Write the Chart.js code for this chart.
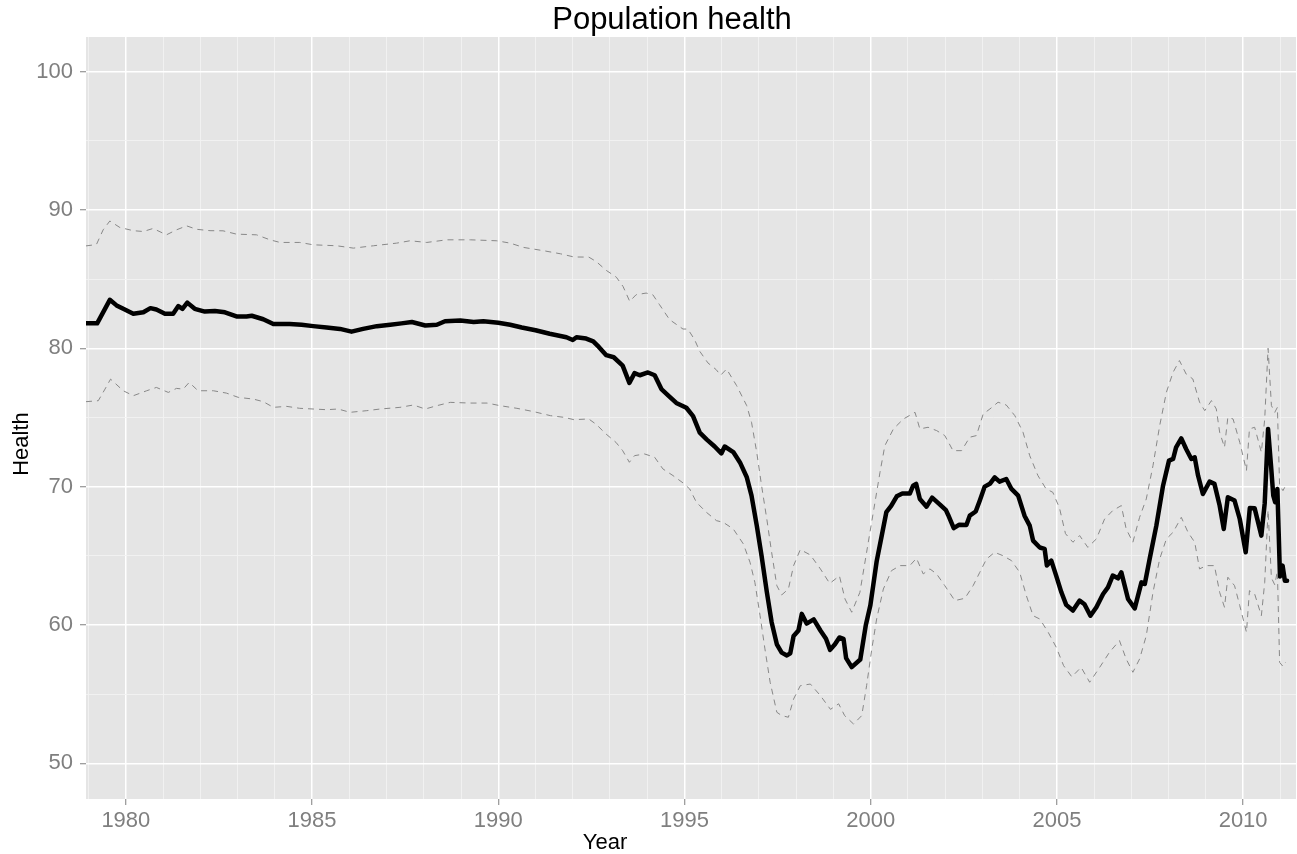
<!DOCTYPE html>
<html>
<head>
<meta charset="utf-8">
<script src="https://cdn.jsdelivr.net/npm/chart.js@4.4.1/dist/chart.umd.min.js"></script>
<style>
  html, body { margin: 0; padding: 0; background: #ffffff; }
  #wrap { width: 1297px; height: 854px; }
</style>
</head>
<body>
<div id="wrap"><canvas id="c" width="1297" height="854"></canvas></div>
<script>
// Population health estimate (thick line) with upper / lower bounds (dashed)
const healthYears = [1978.93,1979.23,1979.57,1979.75,1979.93,1980.2,1980.47,1980.66,1980.82,1981.05,1981.27,1981.41,1981.52,1981.65,1981.85,1982.12,1982.39,1982.66,1982.97,1983.24,1983.38,1983.69,1983.96,1984.4,1984.72,1985.03,1985.39,1985.75,1986.06,1986.37,1986.74,1987.1,1987.4,1987.68,1988.04,1988.35,1988.57,1988.98,1989.34,1989.6,1990.0,1990.32,1990.63,1991.0,1991.38,1991.83,1992.0,1992.1,1992.36,1992.55,1992.7,1992.9,1993.1,1993.34,1993.52,1993.66,1993.8,1994.02,1994.2,1994.38,1994.56,1994.78,1995.05,1995.23,1995.41,1995.6,1995.81,1995.99,1996.08,1996.31,1996.49,1996.67,1996.8,1996.94,1997.07,1997.21,1997.34,1997.48,1997.61,1997.75,1997.84,1997.93,1998.06,1998.15,1998.28,1998.47,1998.65,1998.8,1998.91,1999.04,1999.16,1999.27,1999.34,1999.49,1999.72,1999.87,1999.99,2000.16,2000.3,2000.42,2000.55,2000.7,2000.85,2001.05,2001.14,2001.22,2001.32,2001.5,2001.65,2001.86,2002.02,2002.08,2002.23,2002.38,2002.57,2002.66,2002.82,2002.93,2003.06,2003.2,2003.33,2003.46,2003.64,2003.78,2003.96,2004.13,2004.27,2004.36,2004.54,2004.67,2004.73,2004.85,2004.98,2005.12,2005.25,2005.43,2005.61,2005.74,2005.9,2006.06,2006.24,2006.37,2006.5,2006.64,2006.73,2006.91,2007.09,2007.27,2007.36,2007.49,2007.67,2007.85,2008.01,2008.12,2008.2,2008.34,2008.47,2008.61,2008.7,2008.79,2008.92,2009.1,2009.23,2009.37,2009.48,2009.59,2009.77,2009.91,2010.07,2010.18,2010.31,2010.49,2010.58,2010.67,2010.75,2010.81,2010.86,2010.92,2010.99,2011.06,2011.12,2011.18];
const healthValues = [81.8,81.8,83.5,83.1,82.85,82.5,82.6,82.9,82.8,82.5,82.5,83.05,82.85,83.3,82.85,82.65,82.7,82.6,82.3,82.3,82.35,82.1,81.75,81.75,81.7,81.6,81.5,81.4,81.2,81.4,81.6,81.7,81.8,81.9,81.65,81.7,81.95,82.0,81.9,81.95,81.85,81.7,81.5,81.3,81.05,80.8,80.6,80.8,80.7,80.5,80.1,79.5,79.35,78.75,77.5,78.2,78.05,78.25,78.05,77.05,76.6,76.05,75.7,75.1,73.9,73.4,72.9,72.4,72.9,72.5,71.75,70.7,69.35,67.2,65.0,62.4,60.2,58.6,58.0,57.8,57.95,59.2,59.6,60.8,60.1,60.4,59.6,59.0,58.2,58.6,59.1,59.0,57.6,56.95,57.5,60.0,61.4,64.6,66.5,68.15,68.6,69.3,69.5,69.5,70.07,70.2,69.1,68.55,69.2,68.7,68.3,67.95,67.0,67.25,67.23,67.9,68.2,69.0,70.0,70.2,70.67,70.36,70.55,69.83,69.35,67.9,67.18,66.1,65.6,65.5,64.3,64.65,63.57,62.36,61.45,61.04,61.76,61.5,60.67,61.28,62.24,62.72,63.57,63.37,63.8,61.88,61.2,63.08,62.96,64.77,67.18,70.07,71.88,72.0,72.84,73.49,72.72,72.0,72.12,70.8,69.47,70.36,70.2,68.63,66.94,69.23,68.99,67.66,65.25,68.45,68.43,66.46,68.8,74.17,71.5,69.35,68.87,69.83,63.5,64.29,63.2,63.2];

const upperYears = [1978.93,1979.21,1979.39,1979.57,1979.84,1980.2,1980.47,1980.73,1981.09,1981.36,1981.63,1981.9,1982.26,1982.61,1982.97,1983.51,1983.87,1984.14,1984.67,1985.03,1985.66,1986.11,1986.65,1987.27,1987.63,1988.08,1988.62,1989.25,1989.96,1990.32,1990.68,1991.22,1991.67,1992.03,1992.43,1992.63,1992.9,1993.17,1993.35,1993.53,1993.7,1993.97,1994.15,1994.33,1994.6,1994.96,1995.09,1995.27,1995.41,1995.63,1995.85,1995.97,1996.13,1996.4,1996.67,1996.8,1996.94,1997.07,1997.21,1997.34,1997.48,1997.61,1997.79,1997.93,1998.11,1998.38,1998.65,1998.9,1999.16,1999.31,1999.49,1999.71,1999.89,2000.07,2000.25,2000.38,2000.61,2000.88,2001.19,2001.32,2001.54,2001.77,2001.99,2002.21,2002.44,2002.66,2002.84,2003.02,2003.2,2003.42,2003.64,2003.87,2004.09,2004.27,2004.49,2004.71,2004.89,2005.07,2005.23,2005.43,2005.61,2005.83,2006.06,2006.28,2006.5,2006.73,2006.86,2007.04,2007.22,2007.4,2007.58,2007.76,2007.94,2008.12,2008.29,2008.47,2008.65,2008.83,2008.97,2009.15,2009.28,2009.37,2009.5,2009.59,2009.73,2009.91,2010.09,2010.17,2010.31,2010.49,2010.58,2010.67,2010.76,2010.85,2010.92,2010.98,2011.07,2011.14];
const upperValues = [87.4,87.5,88.56,89.2,88.73,88.5,88.44,88.66,88.2,88.56,88.85,88.6,88.5,88.49,88.25,88.2,87.84,87.65,87.65,87.48,87.41,87.24,87.41,87.6,87.77,87.65,87.84,87.84,87.77,87.6,87.29,87.05,86.83,86.6,86.59,86.27,85.63,85.14,84.47,83.39,83.87,83.99,83.87,83.15,82.07,81.39,81.39,80.63,79.78,78.94,78.46,78.05,78.5,77.3,75.86,74.65,72.48,70.07,67.66,65.25,62.84,62.17,62.6,64.29,65.45,65.06,64.05,63.0,63.55,61.88,60.92,62.36,65.25,68.14,71.04,72.96,74.17,74.89,75.37,74.17,74.29,74.05,73.69,72.6,72.6,73.57,73.69,75.25,75.61,76.1,75.9,75.13,73.93,72.24,70.8,69.83,69.59,68.45,66.6,65.98,66.46,65.61,66.22,67.66,68.27,68.63,66.94,65.98,67.78,69.11,71.52,74.41,76.82,78.27,79.11,78.14,77.78,76.1,75.49,76.22,75.61,73.93,72.84,75.01,74.89,73.2,71.16,74.17,74.29,72.48,74.89,80.0,75.86,75.37,75.73,70.07,69.71,70.07];

const lowerYears = [1978.93,1979.26,1979.44,1979.59,1979.93,1980.2,1980.56,1980.82,1981.14,1981.36,1981.54,1981.7,1981.94,1982.35,1982.7,1983.02,1983.42,1983.69,1983.96,1984.32,1984.67,1985.03,1985.39,1985.7,1986.02,1986.47,1986.83,1987.36,1987.72,1988.04,1988.35,1988.71,1989.25,1989.7,1990.05,1990.5,1990.95,1991.4,1991.76,1992.03,1992.43,1992.63,1992.89,1993.16,1993.34,1993.52,1993.66,1993.93,1994.2,1994.42,1994.69,1994.96,1995.14,1995.32,1995.59,1995.86,1996.04,1996.31,1996.58,1996.76,1996.89,1997.03,1997.16,1997.3,1997.48,1997.61,1997.79,1997.93,1998.11,1998.38,1998.65,1998.92,1999.14,1999.3,1999.54,1999.76,1999.89,2000.03,2000.16,2000.34,2000.56,2000.79,2001.05,2001.23,2001.41,2001.59,2001.77,2001.99,2002.26,2002.53,2002.75,2002.93,2003.11,2003.33,2003.55,2003.78,2004.0,2004.18,2004.36,2004.54,2004.76,2004.98,2005.18,2005.4,2005.65,2005.88,2006.15,2006.41,2006.68,2006.86,2007.04,2007.22,2007.4,2007.58,2007.76,2007.94,2008.12,2008.34,2008.52,2008.7,2008.83,2009.01,2009.23,2009.37,2009.5,2009.59,2009.77,2009.91,2010.09,2010.17,2010.31,2010.49,2010.58,2010.67,2010.76,2010.85,2010.92,2010.98,2011.07,2011.14];
const lowerValues = [76.14,76.21,77.05,77.77,76.93,76.57,76.93,77.17,76.81,77.1,77.05,77.53,76.93,76.93,76.76,76.45,76.33,76.14,75.73,75.8,75.66,75.61,75.56,75.61,75.37,75.49,75.61,75.73,75.9,75.61,75.85,76.09,76.04,76.04,75.85,75.66,75.42,75.13,75.01,74.84,74.89,74.5,73.81,73.2,72.6,71.76,72.24,72.36,72.12,71.28,70.8,70.27,69.83,68.87,68.14,67.54,67.42,66.94,65.86,64.53,63.08,60.67,58.27,55.86,53.69,53.45,53.33,54.65,55.61,55.73,54.89,53.9,54.3,53.45,52.84,53.45,55.61,58.27,60.43,62.6,63.93,64.29,64.29,64.82,63.69,64.05,63.69,62.84,61.76,61.93,62.84,63.81,64.77,65.25,65.01,64.65,63.81,62.12,60.67,60.43,59.5,58.4,57.06,56.25,56.94,55.86,56.94,58.02,58.87,57.54,56.58,57.54,59.23,62.36,64.77,66.22,66.7,67.78,66.7,65.98,64.05,64.29,64.29,62.36,61.28,63.45,62.84,61.4,59.47,62.48,62.24,60.67,63.08,68.3,63.4,62.9,63.9,57.3,57.0,57.3];

// Axis ticks: labelled majors and unlabelled minor grid positions
const xTickLabels = [1980, 1985, 1990, 1995, 2000, 2005, 2010];
const xMinorTicks = [1979,1981,1982,1983,1984,1986,1987,1988,1989,1991,1992,1993,1994,1996,1997,1998,1999,2001,2002,2003,2004,2006,2007,2008,2009,2011];
const yTickLabels = [50, 60, 70, 80, 90, 100];
const yMinorTicks = [55, 65, 75, 85, 95];

const toPoints = (xs, ys) => xs.map((x, i) => ({ x: x, y: ys[i] }));

const FONT = '"Liberation Sans", Arial, Helvetica, sans-serif';
const TICK_GREY = '#7f7f7f';

function gridStyle(majors) {
  return {
    color: ctx => majors.includes(ctx.tick.value) ? '#ffffff' : '#f2f2f2',
    lineWidth: ctx => majors.includes(ctx.tick.value) ? 1.5 : 0.9,
    tickColor: ctx => majors.includes(ctx.tick.value) ? TICK_GREY : 'rgba(0,0,0,0)',
    tickLength: 6,
    tickWidth: 1,
    drawTicks: true
  };
}

const panelBackground = {
  id: 'panelBackground',
  beforeDraw(chart) {
    const a = chart.chartArea;
    const ctx = chart.ctx;
    ctx.save();
    ctx.fillStyle = '#e5e5e5';
    ctx.fillRect(a.left, a.top, a.right - a.left, a.bottom - a.top);
    ctx.restore();
  }
};

const titles = {
  id: 'titles',
  afterDraw(chart) {
    const ctx = chart.ctx;
    ctx.save();
    ctx.fillStyle = '#000000';
    ctx.textAlign = 'center';
    ctx.textBaseline = 'alphabetic';
    ctx.font = '31px ' + FONT;
    ctx.fillText('Population health', 672, 29);
    ctx.font = '22px ' + FONT;
    ctx.fillText('Year', 605, 849);
    ctx.translate(28, 444);
    ctx.rotate(-Math.PI / 2);
    ctx.fillText('Health', 0, 0);
    ctx.restore();
  }
};

new Chart(document.getElementById('c'), {
  type: 'line',
  data: {
    datasets: [
      {
        label: 'Upper',
        data: toPoints(upperYears, upperValues),
        borderColor: '#888888',
        borderWidth: 1,
        borderDash: [6, 5],
        pointRadius: 0,
        tension: 0,
        fill: false
      },
      {
        label: 'Lower',
        data: toPoints(lowerYears, lowerValues),
        borderColor: '#888888',
        borderWidth: 1,
        borderDash: [6, 5],
        pointRadius: 0,
        tension: 0,
        fill: false
      },
      {
        label: 'Health',
        data: toPoints(healthYears, healthValues),
        borderColor: '#000000',
        borderWidth: 4.5,
        borderJoinStyle: 'round',
        borderCapStyle: 'round',
        pointRadius: 0,
        tension: 0,
        fill: false
      }
    ]
  },
  options: {
    responsive: false,
    animation: false,
    devicePixelRatio: 1,
    layout: { padding: { top: 37, right: 1, left: 0, bottom: 0 } },
    plugins: {
      legend: { display: false },
      tooltip: { enabled: false },
      title: { display: false }
    },
    scales: {
      x: {
        type: 'linear',
        position: 'bottom',
        min: 1978.93,
        max: 2011.42,
        afterBuildTicks: scale => {
          scale.ticks = xTickLabels.concat(xMinorTicks).sort((a, b) => a - b).map(v => ({ value: v }));
        },
        afterFit: scale => { scale.height = 55; },
        grid: gridStyle(xTickLabels),
        border: { display: false },
        ticks: {
          autoSkip: false,
          maxRotation: 0,
          padding: 3,
          color: TICK_GREY,
          font: { family: FONT, size: 22 },
          callback: v => xTickLabels.includes(v) ? String(v) : ''
        }
      },
      y: {
        type: 'linear',
        min: 47.42,
        max: 102.5,
        afterBuildTicks: scale => {
          scale.ticks = yTickLabels.concat(yMinorTicks).sort((a, b) => a - b).map(v => ({ value: v }));
        },
        afterFit: scale => { scale.width = 86; },
        grid: gridStyle(yTickLabels),
        border: { display: false },
        ticks: {
          autoSkip: false,
          padding: 7,
          color: TICK_GREY,
          font: { family: FONT, size: 22 },
          callback: v => yTickLabels.includes(v) ? String(v) : ''
        }
      }
    }
  },
  plugins: [panelBackground, titles]
});
</script>
</body>
</html>
